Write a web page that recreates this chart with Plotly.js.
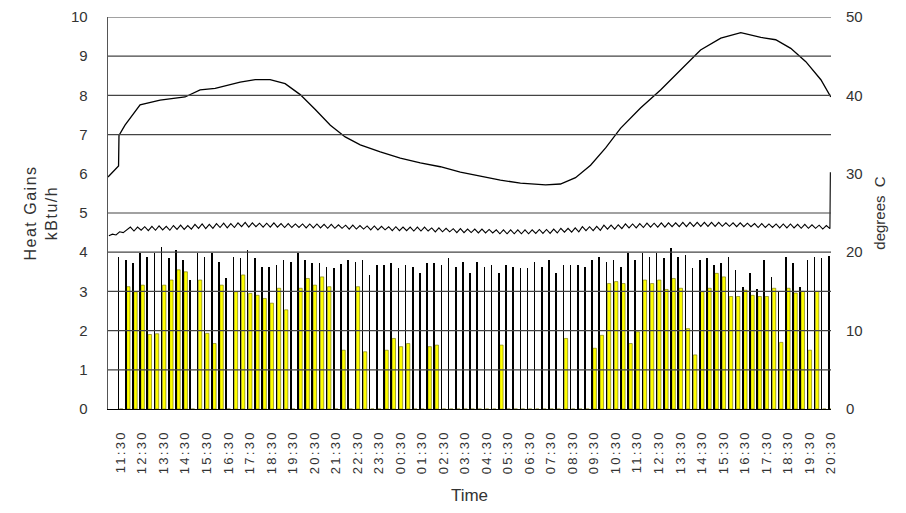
<!DOCTYPE html>
<html>
<head>
<meta charset="utf-8">
<script src="https://cdn.plot.ly/plotly-3.0.1.min.js"></script>
<style>
  html, body { margin: 0; padding: 0; background: #fff; }
  #chart { width: 906px; height: 513px; }
  #chart .xtick text { letter-spacing: 2.3px; }
  #chart .ytitle { letter-spacing: 1.5px; }
</style>
</head>
<body>
<div id="chart"></div>
<script>
// ---- tick labels (hourly, 11:30 day 1 to 20:30 day 2), positions in hours from midnight day 1
const tickHours = [11.5,12.5,13.5,14.5,15.5,16.5,17.5,18.5,19.5,20.5,21.5,22.5,23.5,24.5,25.5,26.5,27.5,28.5,29.5,30.5,31.5,32.5,33.5,34.5,35.5,36.5,37.5,38.5,39.5,40.5,41.5,42.5,43.5,44.5];
const tickLabels = ["11:30","12:30","13:30","14:30","15:30","16:30","17:30","18:30","19:30","20:30","21:30","22:30","23:30","00:30","01:30","02:30","03:30","04:30","05:30","06:30","07:30","08:30","09:30","10:30","11:30","12:30","13:30","14:30","15:30","16:30","17:30","18:30","19:30","20:30"];

// ---- heat gain columns, one slot every 20 minutes starting 11:24
const slotStart = 11.4;
const slotStep = 1 / 3;
const sensibleGain = [ // black columns, kBtu/h
  3.89,3.80,3.72,3.97,3.89,3.97,4.14,3.85,4.06,3.80,3.29,3.97,3.89,3.97,3.76,3.33,3.89,3.85,4.06,3.85,3.63,3.63,3.67,3.80,3.76,3.97,3.80,3.72,3.72,3.63,3.59,3.70,
  3.80,3.76,3.80,3.42,3.67,3.67,3.72,3.59,3.67,3.63,3.46,3.72,3.72,3.67,3.84,3.63,3.76,3.46,3.76,3.63,3.67,3.46,3.67,3.63,3.59,3.59,3.76,3.63,3.80,3.46,3.67,3.67,3.67,3.63,3.80,3.89,
  3.76,3.80,3.63,3.97,3.80,3.97,3.89,3.97,3.84,4.10,3.89,3.93,3.59,3.80,3.84,3.67,3.72,3.89,3.55,3.10,3.46,3.05,3.80,3.38,3.00,3.89,3.72,3.10,3.80,3.89,3.85,3.90
];
const solarGain = [ // yellow columns, kBtu/h
  0,3.12,2.99,3.16,1.90,1.92,3.16,3.29,3.55,3.50,0,3.29,1.93,1.67,3.16,0,2.99,3.42,2.95,2.90,2.82,2.70,3.08,2.53,0,3.08,3.33,3.16,3.37,3.12,0,1.50,
  0,3.12,1.46,0,0,1.50,1.80,1.59,1.67,0,0,1.59,1.63,0,0,0,0,0,0,0,0,1.63,0,0,0,0,0,0,0,0,1.80,0,0,0,1.55,1.88,
  3.20,3.25,3.20,1.67,1.97,3.29,3.20,3.29,3.05,3.33,3.08,2.05,1.38,2.99,3.08,3.46,3.37,2.87,2.87,3.03,2.90,2.87,2.87,3.08,1.70,3.08,2.96,3.00,1.50,3.00,0,0
];

// ---- outdoor temperature, degrees C
const outdoorTimes = [10.91,11.33,11.40,11.42,11.70,12.40,13.33,14.49,15.19,15.89,17.05,17.75,18.44,19.14,19.84,20.54,21.24,21.93,22.63,23.56,24.49,25.42,26.35,27.28,28.21,29.14,30.07,31.24,31.93,32.63,33.33,34.03,34.72,35.65,36.58,37.51,38.44,39.38,40.31,41.24,41.93,42.63,43.33,44.03,44.49];
const outdoorTemp  = [29.6,30.9,31.0,34.9,36.2,38.8,39.4,39.8,40.7,40.9,41.7,42.0,42.0,41.5,40.1,38.2,36.2,34.7,33.7,32.8,32.0,31.4,30.9,30.2,29.7,29.2,28.8,28.6,28.7,29.5,31.1,33.3,35.8,38.4,40.7,43.2,45.8,47.3,48.0,47.4,47.1,46.0,44.3,42.0,39.8];

// ---- indoor temperature, degrees C, every 10 minutes from 10:57
const indoorStart = 10.95;
const indoorStep = 1 / 6;
const indoorTemp = [
  22.1,22.3,22.2,22.6,22.5,22.9,
  23.2,22.7,23.2,22.8,23.25,22.75,
  23.3,22.8,23.35,22.85,23.3,22.8,
  23.4,22.9,23.45,22.9,23.4,22.95,
  23.55,23.05,23.6,23.0,23.55,23.05,
  23.65,23.15,23.7,23.1,23.65,23.15,
  23.75,23.25,23.8,23.2,23.75,23.25,
  23.7,23.2,23.7,23.2,23.75,23.2,
  23.65,23.15,23.65,23.15,23.6,23.15,
  23.6,23.1,23.6,23.1,23.6,23.1,
  23.55,23.05,23.55,23.05,23.5,23.05,
  23.45,22.95,23.45,22.95,23.4,22.95,
  23.35,22.85,23.35,22.85,23.3,22.85,
  23.25,22.75,23.25,22.75,23.2,22.75,
  23.2,22.7,23.2,22.7,23.2,22.7,
  23.1,22.6,23.1,22.6,23.05,22.6,
  23.0,22.5,23.0,22.5,22.95,22.5,
  22.95,22.45,22.95,22.45,22.9,22.45,
  22.85,22.35,22.85,22.35,22.85,22.35,
  22.85,22.35,22.85,22.35,22.85,22.4,
  22.9,22.4,22.9,22.4,22.95,22.45,
  23.05,22.55,23.05,22.55,23.1,22.6,
  23.25,22.75,23.25,22.75,23.3,22.8,
  23.45,22.95,23.45,22.95,23.5,23.0,
  23.6,23.1,23.6,23.1,23.65,23.15,
  23.7,23.2,23.7,23.2,23.75,23.2,
  23.75,23.25,23.75,23.25,23.8,23.25,
  23.8,23.3,23.8,23.3,23.8,23.3,
  23.8,23.3,23.8,23.3,23.75,23.3,
  23.75,23.25,23.75,23.25,23.7,23.25,
  23.65,23.15,23.65,23.15,23.6,23.15,
  23.6,23.1,23.6,23.1,23.6,23.1,
  23.55,23.05,23.55,23.05,23.5,23.05,
  23.45,22.95,23.4,23.0
];
const indoorEndTime = 44.47;
const indoorEndTemp = 30.2;

// gridline levels drawn on the chart (kBtu/h)
const gridLevels = [1,2,3,4,5,7,8,9,10];

const slotTimes = sensibleGain.map((_, k) => slotStart + k * slotStep);
const indoorTimes = indoorTemp.map((_, i) => indoorStart + i * indoorStep).concat([indoorEndTime]);
const indoorAll = indoorTemp.concat([indoorEndTemp]);

const pxPerHour = 723 / (44.5 - 10.91);

const traces = [
  {
    type: 'bar', x: slotTimes, y: solarGain, yaxis: 'y',
    width: 3.4 / pxPerHour, offset: 0.9 / pxPerHour,
    marker: { color: '#ffff00', line: { color: '#6b6b00', width: 0.6 } },
    hoverinfo: 'skip', showlegend: false
  },
  {
    type: 'bar', x: slotTimes, y: sensibleGain, yaxis: 'y',
    width: 1.6 / pxPerHour, offset: -0.8 / pxPerHour,
    marker: { color: '#000000', line: { width: 0 } },
    hoverinfo: 'skip', showlegend: false
  },
  {
    type: 'scatter', mode: 'lines', x: outdoorTimes, y: outdoorTemp, yaxis: 'y2',
    line: { color: '#000000', width: 1.3 }, hoverinfo: 'skip', showlegend: false
  },
  {
    type: 'scatter', mode: 'lines', x: indoorTimes, y: indoorAll, yaxis: 'y2',
    line: { color: '#000000', width: 1.1 }, hoverinfo: 'skip', showlegend: false
  }
];

const fontFam = '"Liberation Sans", Arial, sans-serif';

const layout = {
  width: 906, height: 513,
  margin: { l: 108, r: 75, t: 17, b: 104, pad: 0 },
  paper_bgcolor: '#ffffff', plot_bgcolor: '#ffffff',
  barmode: 'overlay', bargap: 0,
  font: { family: fontFam, size: 14, color: '#333333' },
  xaxis: {
    range: [10.91, 44.5], tickmode: 'array', tickvals: tickHours, ticktext: tickLabels,
    tickangle: -90, ticks: '', ticklabelstandoff: 15,
    tickfont: { family: fontFam, size: 13, color: '#333333' },
    showgrid: false, zeroline: false, showline: true, linecolor: '#000000', linewidth: 1,
    title: { text: 'Time', font: { family: fontFam, size: 17, color: '#333333' }, standoff: 27 }
  },
  yaxis: {
    range: [0, 10], tickvals: [0,1,2,3,4,5,6,7,8,9,10], ticks: '', ticklabelstandoff: 16,
    tickfont: { family: fontFam, size: 15, color: '#333333' },
    showgrid: false, zeroline: false, showline: true, linecolor: '#555555', linewidth: 1.3,
    title: { text: 'Heat Gains<br>kBtu/h', font: { family: fontFam, size: 16, color: '#333333' }, standoff: 9 }
  },
  yaxis2: {
    range: [0, 50], tickvals: [0,10,20,30,40,50], overlaying: 'y', side: 'right', ticks: '',
    ticklabelstandoff: 14,
    tickfont: { family: fontFam, size: 15, color: '#333333' },
    showgrid: false, zeroline: false, showline: false,
    title: { text: 'degrees\u00a0\u00a0C', font: { family: fontFam, size: 15, color: '#333333' }, standoff: 12 }
  },
  shapes: gridLevels.map(v => ({
    type: 'line', xref: 'paper', x0: 0, x1: 1, yref: 'y', y0: v, y1: v,
    line: { color: '#444444', width: 1.2 }, layer: 'above'
  })),
  showlegend: false
};

Plotly.newPlot('chart', traces, layout, { staticPlot: true, displayModeBar: false });
</script>
</body>
</html>
